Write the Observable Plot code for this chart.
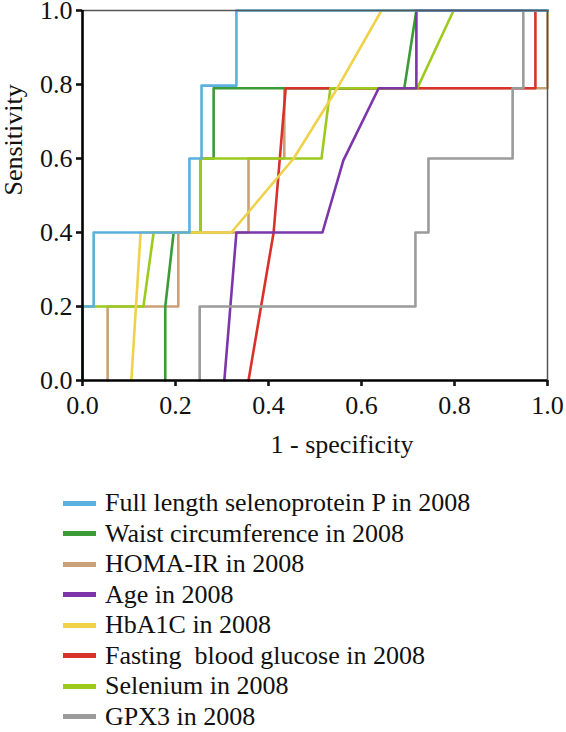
<!DOCTYPE html>
<html>
<head>
<meta charset="utf-8">
<script src="https://cdn.jsdelivr.net/npm/d3@7"></script>
<script src="https://cdn.jsdelivr.net/npm/@observablehq/plot@0.6"></script>
<style>
  html, body { margin: 0; padding: 0; background: #fff; }
  #chart { width: 566px; }
  .legend { font-family: "Liberation Serif", "Times New Roman", serif; font-size: 26px; line-height: 28px; color: #111; padding-top: 18px; }
  .legend .row { display: flex; align-items: center; height: 30.5px; white-space: pre; }
  .legend .sw { width: 33px; height: 5px; margin-left: 63px; margin-right: 9px; }
</style>
</head>
<body>
<div id="chart"></div>
<script>
// Series names (legend order)
const seriesNames = [
  "Full length selenoprotein P in 2008",
  "Waist circumference in 2008",
  "HOMA-IR in 2008",
  "Age in 2008",
  "HbA1C in 2008",
  "Fasting  blood glucose in 2008",
  "Selenium in 2008",
  "GPX3 in 2008"
];
const seriesColors = ["#5ab0de", "#3b9b36", "#c9a077", "#7c36aa", "#efd24a", "#d8322a", "#9ccb1e", "#9b9b9b"];
// drawing order (index into seriesNames), bottom to top
const drawOrder = [2, 1, 5, 6, 4, 3, 7, 0];

// ROC curves: 1 - specificity (x) and sensitivity (y)
const selenoPX = [0, 0, 0.024, 0.024, 0.23, 0.23, 0.256, 0.256, 0.331, 0.331, 1];
const selenoPY = [0, 0.2, 0.2, 0.4, 0.4, 0.6, 0.6, 0.797, 0.797, 1, 1];

const waistX = [0.178, 0.178, 0.196, 0.254, 0.254, 0.282, 0.282, 0.692, 0.718, 1];
const waistY = [0, 0.2, 0.4, 0.4, 0.6, 0.6, 0.79, 0.79, 1, 1];

const homaX = [0.054, 0.054, 0.206, 0.206, 0.357, 0.357, 0.434, 0.434, 1, 1];
const homaY = [0, 0.2, 0.2, 0.4, 0.4, 0.6, 0.6, 0.79, 0.79, 1];

const ageX = [0.305, 0.331, 0.516, 0.561, 0.637, 0.718, 0.718, 1];
const ageY = [0, 0.4, 0.4, 0.595, 0.79, 0.79, 1, 1];

const hba1cX = [0.105, 0.125, 0.32, 0.454, 0.548, 0.643, 1];
const hba1cY = [0, 0.4, 0.4, 0.6, 0.79, 1, 1];

const glucoseX = [0.357, 0.411, 0.437, 0.974, 0.974, 1];
const glucoseY = [0, 0.4, 0.79, 0.79, 1, 1];

const seleniumX = [0, 0, 0.131, 0.153, 0.254, 0.254, 0.514, 0.533, 0.72, 0.798, 1];
const seleniumY = [0, 0.2, 0.2, 0.4, 0.4, 0.6, 0.6, 0.79, 0.79, 1, 1];

const gpx3X = [0.252, 0.252, 0.716, 0.716, 0.744, 0.744, 0.925, 0.925, 0.948, 0.948, 1];
const gpx3Y = [0, 0.2, 0.2, 0.4, 0.4, 0.6, 0.6, 0.79, 0.79, 1, 1];

const xTicks = [0, 0.2, 0.4, 0.6, 0.8, 1.0];
const yTicks = [0, 0.2, 0.4, 0.6, 0.8, 1.0];
const xLabel = "1 - specificity";
const yLabel = "Sensitivity";

const allX = [selenoPX, waistX, homaX, ageX, hba1cX, glucoseX, seleniumX, gpx3X];
const allY = [selenoPY, waistY, homaY, ageY, hba1cY, glucoseY, seleniumY, gpx3Y];

const rows = [];
drawOrder.forEach(i => {
  allX[i].forEach((x, j) => rows.push({series: seriesNames[i], x, y: allY[i][j]}));
});

const fmt = d3.format(".1f");

const chart = Plot.plot({
  width: 566,
  height: 470,
  marginLeft: 82,
  marginRight: 19,
  marginTop: 10,
  marginBottom: 90,
  style: {fontFamily: "'Liberation Serif', 'Times New Roman', serif", fontSize: "26px", color: "#111", background: "#fff", overflow: "visible"},
  x: {domain: [0, 1]},
  y: {domain: [0, 1]},
  color: {domain: seriesNames, range: seriesColors},
  marks: [
    Plot.line(rows, {x: "x", y: "y", z: "series", stroke: "series", strokeWidth: 2.6, curve: "linear"}),
    Plot.ruleY([1], {stroke: "#555", strokeWidth: 1.5}),
    Plot.ruleX([1], {stroke: "#555", strokeWidth: 1.5}),
    Plot.ruleX([0], {stroke: "#000", strokeWidth: 2.6}),
    Plot.ruleY([0], {stroke: "#000", strokeWidth: 2.6}),
    Plot.axisX({ticks: xTicks, tickFormat: fmt, tickSize: 6, tickPadding: 9, strokeWidth: 2.6, label: null}),
    Plot.axisY({ticks: yTicks, tickFormat: fmt, tickSize: 6, tickPadding: 4, strokeWidth: 2.6, label: null}),
    Plot.text([xLabel], {frameAnchor: "bottom", lineAnchor: "bottom", dy: 72, dx: 27, text: d => d, fill: "#111"}),
    Plot.text([yLabel], {frameAnchor: "left", rotate: -90, dx: -69, text: d => d, fill: "#111"})
  ]
});
document.getElementById("chart").appendChild(chart);

const legend = document.createElement("div");
legend.className = "legend";
seriesNames.forEach((name, i) => {
  const row = document.createElement("div");
  row.className = "row";
  const sw = document.createElement("span");
  sw.className = "sw";
  sw.style.background = seriesColors[i];
  const t = document.createElement("span");
  t.textContent = name;
  row.appendChild(sw);
  row.appendChild(t);
  legend.appendChild(row);
});
document.getElementById("chart").appendChild(legend);
</script>
</body>
</html>
